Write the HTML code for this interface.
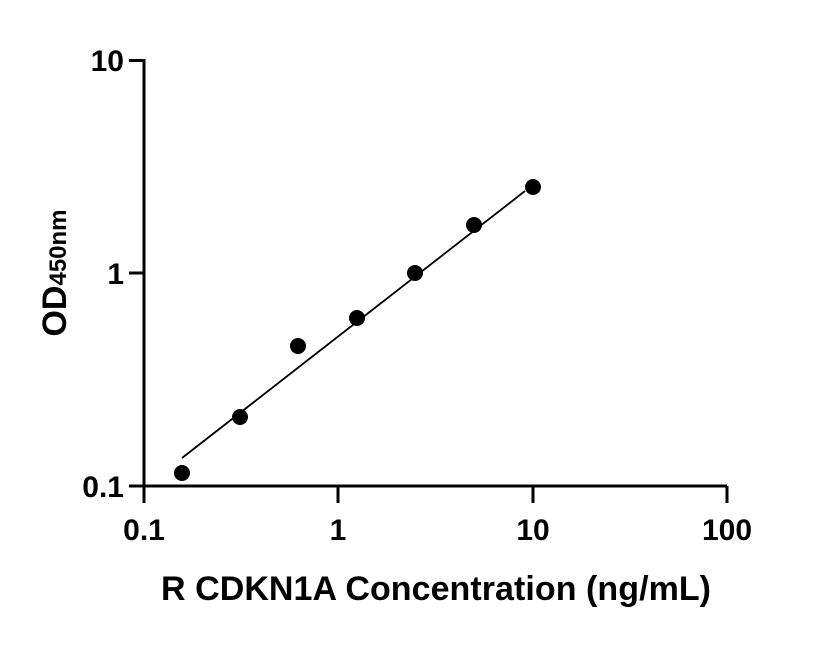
<!DOCTYPE html><html><head><style>body{margin:0;background:#fff}</style></head><body>
<svg width="816" height="640" xmlns="http://www.w3.org/2000/svg" font-family="Liberation Sans, sans-serif" font-weight="bold">
<g stroke="#000" stroke-width="3" fill="none">
<path d="M129,60.5H144V486H727"/>
<path d="M129,273H144M129,486H144M144,486V503M338,486V503M533,486V503M727,486V503"/>
</g>
<line x1="182" y1="458" x2="525" y2="191" stroke="#000" stroke-width="1.8"/>
<g fill="#000">
<circle cx="182" cy="473" r="8"/><circle cx="240" cy="417" r="8"/><circle cx="298" cy="346" r="8"/><circle cx="357" cy="318" r="8"/><circle cx="415" cy="273" r="8"/><circle cx="474" cy="225" r="8"/><circle cx="533" cy="187" r="8"/>
</g>
<g font-size="30" text-anchor="end">
<text x="124" y="71">10</text><text x="124" y="284">1</text><text x="124" y="497">0.1</text>
</g>
<g font-size="30" text-anchor="middle">
<text x="144" y="540">0.1</text><text x="338" y="540">1</text><text x="533" y="540">10</text><text x="727" y="540">100</text>
</g>
<text x="436" y="600" font-size="34" text-anchor="middle" textLength="550">R CDKN1A Concentration (ng/mL)</text>
<text transform="translate(66,273) rotate(-90)" font-size="34" text-anchor="middle">OD<tspan font-size="24">450nm</tspan></text>
</svg>
</body></html>
